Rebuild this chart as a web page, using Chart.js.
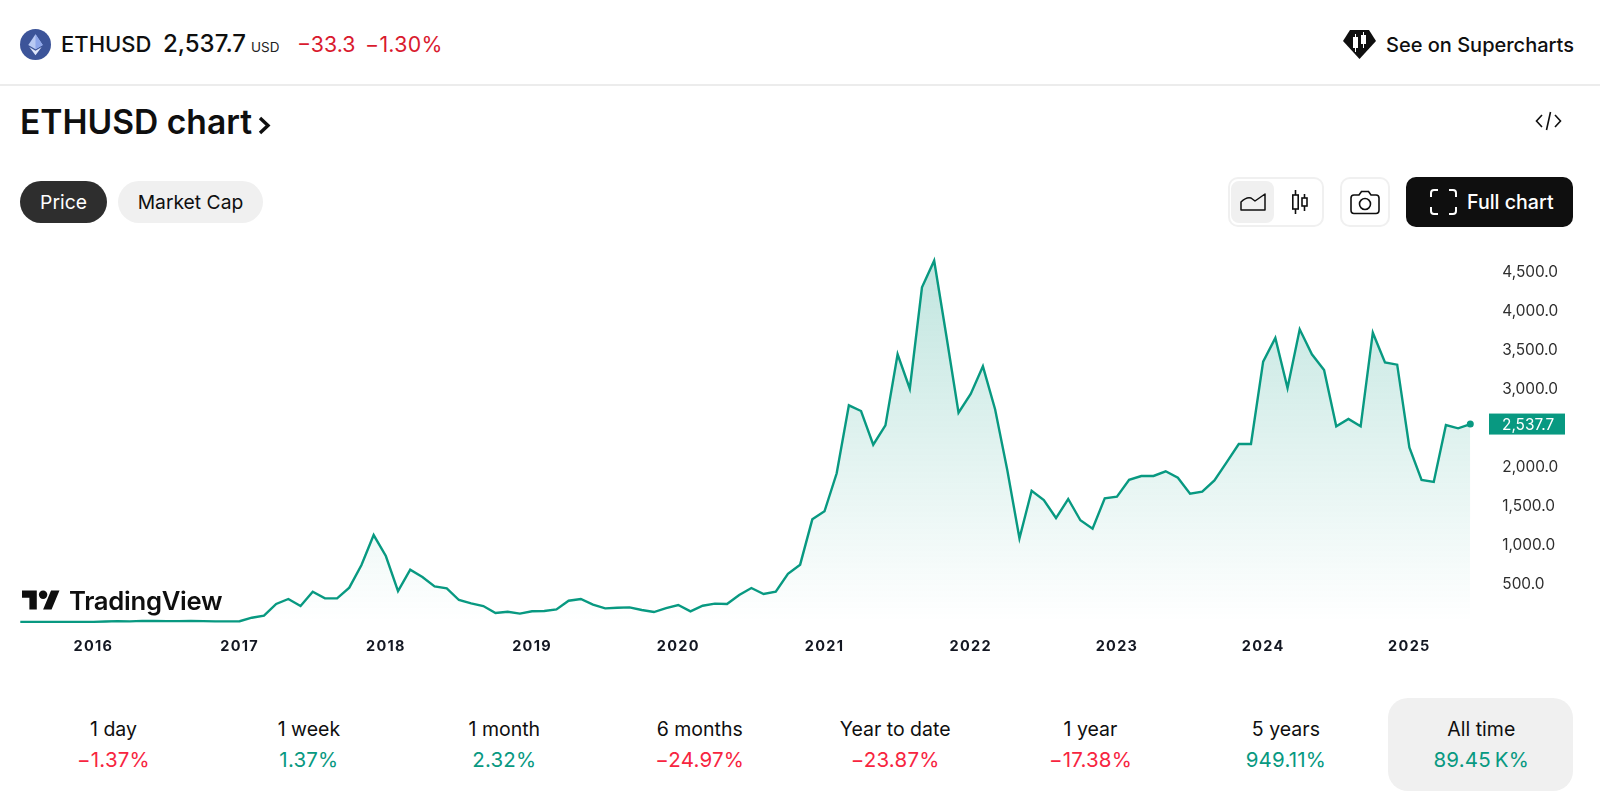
<!DOCTYPE html>
<html>
<head>
<meta charset="utf-8">
<title>ETHUSD chart</title>
<script src="https://cdn.jsdelivr.net/npm/chart.js@4"></script>
<style>
  html, body { margin: 0; padding: 0; background: #fff; }
  body { width: 1600px; height: 807px; position: relative; overflow: hidden; font-family: Inter, "Noto Sans", sans-serif; color: #0f0f0f; }
  .a { position: absolute; white-space: nowrap; }
  .pill { top: 181px; height: 42px; line-height: 42px; border-radius: 21px; text-align: center; font-size: 19.3px; }
  .box { top: 177px; height: 50px; box-sizing: border-box; border: 2px solid #f0f0f0; border-radius: 10px; }
  .period { top: 715px; width: 195px; text-align: center; font-size: 19.5px; line-height: 28px; }
  .period span { display: block; margin-top: 3px; font-size: 20.5px; letter-spacing: 0.2px; }
  .up { color: #089981; }
  .down { color: #f7253f; }
  canvas { position: absolute; left: 0; top: 240px; }
</style>
</head>
<body>

<!-- header -->
<svg class="a" style="left:20px;top:29px" width="31" height="31" viewBox="0 0 30 30">
  <circle cx="15" cy="15" r="15" fill="#3c5499"/>
  <path d="M15 5 L22 15.5 L15 19.5 L8 15.5Z" fill="#b9c9f3"/>
  <path d="M15 5 L15 19.5 L22 15.5Z" fill="#8ea6ea"/>
  <path d="M15 21 L21 17.5 L15 25.5 L9 17.5Z" fill="#dfe6fa"/>
</svg>
<div class="a" style="left:61px;top:30px;font-size:22px;font-weight:500;line-height:28px">ETHUSD</div>
<div class="a" style="left:163px;top:29px;font-size:24px;font-weight:500;line-height:30px">2,537.7</div>
<div class="a" style="left:251px;top:38px;font-size:13.5px;line-height:18px;color:#222">USD</div>
<div class="a" style="left:297px;top:30px;font-size:21.3px;line-height:28px;color:#d91a2e">−33.3</div>
<div class="a" style="left:365px;top:30px;font-size:21.3px;line-height:28px;letter-spacing:0.3px;color:#d91a2e">−1.30%</div>

<svg class="a" style="left:1343px;top:30px" width="33" height="29" viewBox="0 0 33 29">
  <path d="M7 0 H26 L33 11 L16.5 29 L0 11Z" fill="#0f0f0f"/>
  <path d="M10 7h5v11h-5z M18 5h5v9h-5z" fill="#fff"/>
  <path d="M12 4h1v18h-1z M20 2h1v16h-1z" fill="#fff"/>
</svg>
<div class="a" style="left:1386px;top:31px;font-size:20px;font-weight:500;line-height:28px">See on Supercharts</div>
<div class="a" style="left:0;top:84px;width:1600px;height:2px;background:#ececec"></div>

<!-- title row -->
<div class="a" style="left:20px;top:101px;font-size:33.6px;font-weight:600;line-height:42px">ETHUSD chart</div>
<svg class="a" style="left:258px;top:116px" width="13" height="19" viewBox="0 0 13 19">
  <path d="M2 2 L10 9.5 L2 17" fill="none" stroke="#0f0f0f" stroke-width="3.4"/>
</svg>
<svg class="a" style="left:1535px;top:110px" width="27" height="22" viewBox="0 0 27 22" fill="none" stroke="#0f0f0f" stroke-width="1.6">
  <path d="M7 5 L1.5 11 L7 17 M20 5 L25.5 11 L20 17 M15.5 2 L11.5 20"/>
</svg>

<!-- controls -->
<div class="a pill" style="left:20px;width:87px;background:#2e2e2e;color:#fff">Price</div>
<div class="a pill" style="left:118px;width:145px;background:#f0f0f0">Market Cap</div>

<div class="a box" style="left:1228px;width:96px"></div>
<div class="a" style="left:1231px;top:181px;width:43px;height:42px;background:#f0f0f0;border-radius:8px"></div>
<svg class="a" style="left:1239px;top:192px" width="28" height="20" viewBox="0 0 28 20" fill="none" stroke="#0f0f0f" stroke-width="1.5">
  <path d="M2 18 V10 C6 6 9 5 12 6 L16 9 L26 2 V18Z" stroke-linejoin="round"/>
</svg>
<svg class="a" style="left:1290px;top:189px" width="20" height="26" viewBox="0 0 20 26" fill="none" stroke="#0f0f0f" stroke-width="1.6">
  <path d="M5.5 1v24 M14.5 5v17"/>
  <rect x="2.8" y="6" width="5.4" height="14" fill="#fff"/>
  <rect x="12" y="9" width="5" height="8" fill="#fff"/>
</svg>
<div class="a box" style="left:1340px;width:50px"></div>
<svg class="a" style="left:1350px;top:190px" width="30" height="25" viewBox="0 0 30 25" fill="none" stroke="#0f0f0f" stroke-width="1.6">
  <path d="M4 5 H9 L11.5 1.5 H18.5 L21 5 H26 Q29 5 29 8 V20 Q29 23.5 26 23.5 H4 Q1 23.5 1 20 V8 Q1 5 4 5Z"/>
  <circle cx="15" cy="14" r="5.5"/>
</svg>
<div class="a" style="left:1406px;top:177px;width:167px;height:50px;background:#0f0f0f;border-radius:10px"></div>
<svg class="a" style="left:1430px;top:189px" width="27" height="26" viewBox="0 0 27 26" fill="none" stroke="#fff" stroke-width="2">
  <path d="M1 8 V4 Q1 1 4 1 H8 M19 1 H23 Q26 1 26 4 V8 M1 18 V22 Q1 25 4 25 H8 M19 25 H23 Q26 25 26 22 V18"/>
</svg>
<div class="a" style="left:1467px;top:188px;font-size:19.6px;font-weight:500;line-height:28px;color:#fff">Full chart</div>

<canvas id="ethChart" width="1600" height="430"></canvas>

<!-- TradingView mark on top of the chart -->
<svg class="a" style="left:22px;top:586px" width="38" height="29" viewBox="0 0 36 27">
  <path d="M14 22H7V11H0V4h14v18zM28 22h-8l7.5-18h8L28 22z" fill="#0f0f0f"/>
  <circle cx="20" cy="8" r="4" fill="#0f0f0f"/>
</svg>
<div class="a" style="left:69px;top:583px;font-size:25.7px;font-weight:600;line-height:36px;letter-spacing:-0.3px">TradingView</div>

<!-- period strip -->
<div class="a" style="left:1388px;top:698px;width:185px;height:93px;background:#f0f0f0;border-radius:20px"></div>
<div id="periods"></div>

<script>
// monthly closes
var months = [
  "2015-07","2015-08","2015-09","2015-10","2015-11","2015-12",
  "2016-01","2016-02","2016-03","2016-04","2016-05","2016-06","2016-07","2016-08","2016-09","2016-10","2016-11","2016-12",
  "2017-01","2017-02","2017-03","2017-04","2017-05","2017-06","2017-07","2017-08","2017-09","2017-10","2017-11","2017-12",
  "2018-01","2018-02","2018-03","2018-04","2018-05","2018-06","2018-07","2018-08","2018-09","2018-10","2018-11","2018-12",
  "2019-01","2019-02","2019-03","2019-04","2019-05","2019-06","2019-07","2019-08","2019-09","2019-10","2019-11","2019-12",
  "2020-01","2020-02","2020-03","2020-04","2020-05","2020-06","2020-07","2020-08","2020-09","2020-10","2020-11","2020-12",
  "2021-01","2021-02","2021-03","2021-04","2021-05","2021-06","2021-07","2021-08","2021-09","2021-10","2021-11","2021-12",
  "2022-01","2022-02","2022-03","2022-04","2022-05","2022-06","2022-07","2022-08","2022-09","2022-10","2022-11","2022-12",
  "2023-01","2023-02","2023-03","2023-04","2023-05","2023-06","2023-07","2023-08","2023-09","2023-10","2023-11","2023-12",
  "2024-01","2024-02","2024-03","2024-04","2024-05","2024-06","2024-07","2024-08","2024-09","2024-10","2024-11","2024-12",
  "2025-01","2025-02","2025-03","2025-04","2025-05","2025-06"
];
var closes = [
  1, 1, 1, 1, 1, 1,
  2, 6, 11, 8, 14, 12, 11, 11, 13, 11, 8, 8,
  10, 55, 81, 231, 295, 205, 389, 303, 303, 440, 731, 1115,
  846, 397, 671, 577, 457, 431, 282, 239, 205, 115, 132, 107,
  137, 141, 162, 273, 295, 222, 175, 183, 188, 154, 128, 179,
  218, 137, 209, 235, 231, 346, 436, 359, 389, 619, 735, 1316,
  1419, 1906, 2778, 2705, 2273, 2521, 3432, 2991, 4291, 4632, 3670, 2683,
  2923, 3278, 2727, 1949, 1073, 1683, 1564, 1333, 1577, 1304, 1196, 1585,
  1607, 1824, 1872, 1872, 1932, 1850, 1645, 1671, 1816, 2047, 2282, 2282,
  3338, 3641, 3000, 3752, 3432, 3231, 2509, 2603, 2509, 3709, 3329, 3299,
  2239, 1820, 1795, 2526, 2483, 2537.7
];
// 2,500.0 is left out, the last price tag sits there in the original
var priceTicks = [500, 1000, 1500, 2000, 3000, 3500, 4000, 4500];

var periodNames = ["1 day", "1 week", "1 month", "6 months", "Year to date", "1 year", "5 years", "All time"];
var periodValues = ["−1.37%", "1.37%", "2.32%", "−24.97%", "−23.87%", "−17.38%", "949.11%", "89.45\u202FK%"];

var GREEN = '#089981';
var lastIdx = closes.length - 1;

function fmtPrice(v) {
  return v.toLocaleString('en-US', { minimumFractionDigits: 1, maximumFractionDigits: 1 });
}

// green box with the last price on the axis
var lastPriceTag = {
  id: 'lastPriceTag',
  afterDraw: function (chart) {
    var c = chart.ctx;
    var y = chart.scales.y.getPixelForValue(closes[lastIdx]);
    c.save();
    c.fillStyle = GREEN;
    c.fillRect(1489, y - 10.5, 76, 21);
    c.fillStyle = '#fff';
    c.font = '15.4px Inter';
    c.textBaseline = 'middle';
    c.fillText(fmtPrice(closes[lastIdx]), 1502, y + 1);
    c.restore();
  }
};

// year labels are spaced out, chart.js has no option for that
var spacedYears = {
  id: 'spacedYears',
  beforeDraw: function (chart) {
    var xs = chart.scales.x, c = chart.ctx;
    if (xs.spaced) return;
    var drawLabels = xs.drawLabels;
    xs.drawLabels = function (area) {
      c.letterSpacing = '1.3px';
      drawLabels.call(xs, area);
      c.letterSpacing = '0px';
    };
    xs.spaced = true;
  }
};

new Chart(document.getElementById('ethChart'), {
  type: 'line',
  data: {
    labels: months,
    datasets: [{
      data: closes,
      borderColor: GREEN,
      borderWidth: 2.4,
      tension: 0,
      clip: false,
      fill: 'origin',
      backgroundColor: function (ctx) {
        var area = ctx.chart.chartArea;
        if (!area) return 'rgba(8,153,129,0.1)';
        var g = ctx.chart.ctx.createLinearGradient(0, 20, 0, 382);
        g.addColorStop(0, 'rgba(8,153,129,0.25)');
        g.addColorStop(1, 'rgba(8,153,129,0)');
        return g;
      },
      pointRadius: function (ctx) { return ctx.dataIndex === lastIdx ? 3.5 : 0; },
      pointBackgroundColor: GREEN,
      pointBorderWidth: 0
    }]
  },
  plugins: [lastPriceTag, spacedYears],
  options: {
    responsive: false,
    animation: false,
    layout: { padding: { left: 20.3, top: 7.6, right: 0, bottom: 0 } },
    plugins: { legend: { display: false }, tooltip: { enabled: false } },
    scales: {
      x: {
        type: 'category',
        grid: { display: false, drawTicks: false },
        border: { display: false },
        afterFit: function (s) { s.height = 45.66; s.paddingLeft = 0; s.paddingRight = 0; },
        ticks: {
          autoSkip: false,
          maxRotation: 0,
          padding: 14,
          color: '#131722',
          font: { family: 'Inter', size: 14.5, weight: '700' },
          callback: function (v) {
            var m = this.getLabelForValue(v);
            return m.slice(5) === '01' ? m.slice(0, 4) : '';
          }
        }
      },
      y: {
        position: 'right',
        min: -30,
        max: 4800,
        grid: { display: false, drawTicks: false },
        border: { display: false },
        afterFit: function (s) { s.width = 129.7; s.paddingTop = 0; s.paddingBottom = 0; },
        afterBuildTicks: function (s) { s.ticks = priceTicks.map(function (v) { return { value: v }; }); },
        ticks: {
          padding: 32,
          labelOffset: 1,
          color: '#2e2e2e',
          font: { family: 'Inter', size: 15.4 },
          callback: function (v) { return fmtPrice(v); }
        }
      }
    }
  }
});

// period strip below the chart
var holder = document.getElementById('periods');
periodNames.forEach(function (name, i) {
  var cell = document.createElement('div');
  cell.className = 'a period';
  cell.style.left = (16 + i * 195.4) + 'px';
  var cls = periodValues[i].charAt(0) === '−' ? 'down' : 'up';
  cell.innerHTML = name + '<span class="' + cls + '">' + periodValues[i] + '</span>';
  holder.appendChild(cell);
});
</script>
</body>
</html>
